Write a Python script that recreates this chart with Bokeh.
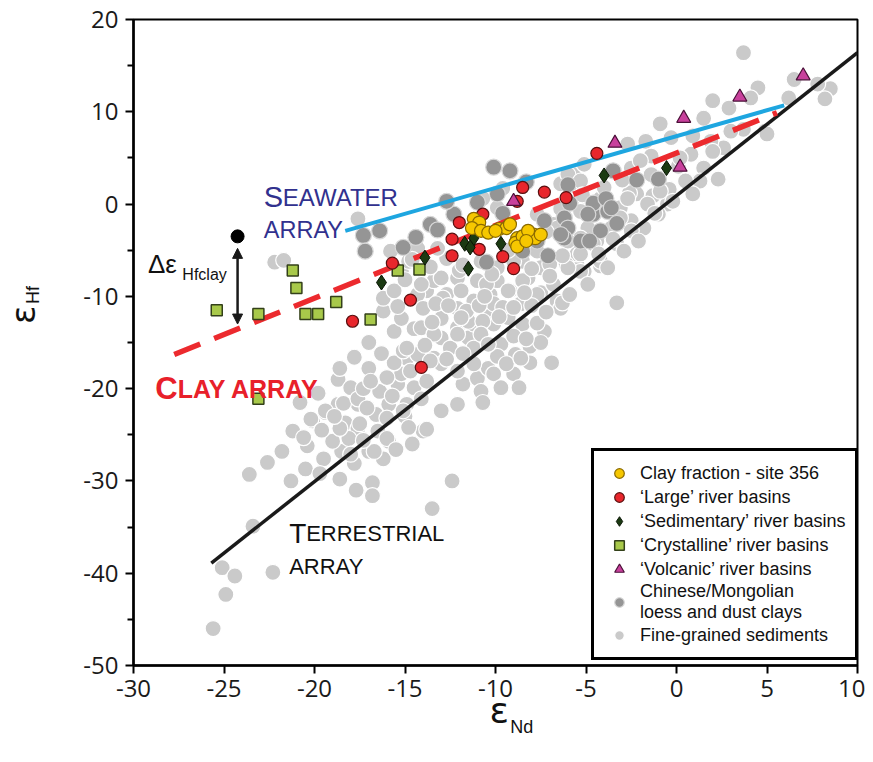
from bokeh.plotting import figure
from bokeh.models import (Range1d, FixedTicker, Label, Arrow, NormalHead,
                          Legend, LegendItem, LinearAxis)
from bokeh.embed import file_html
from bokeh.resources import INLINE

# ---------------- data ----------------
x_ticks = [-30, -25, -20, -15, -10, -5, 0, 5, 10]
y_ticks = [-50, -40, -30, -20, -10, 0, 10, 20]
y_minor = [-45, -35, -25, -15, -5, 5, 15]

# Fine-grained sediments (light grey)
fine_pts = [
    (-23.6, -29.3), (-21.3, -30.0), (-20.5, -28.7), (-20.4, -26.2), (-19.5, -27.6),
    (-20.1, -23.5), (-19.4, -22.6), (-23.4, -34.9), (-25.1, -39.4), (-24.4, -40.3),
    (-24.9, -42.3), (-25.6, -46.0), (-22.3, -39.9), (-16.8, -30.2), (-16.8, -31.6),
    (-17.8, -28.1), (-16.2, -27.6), (-17.0, -26.8), (-18.5, -26.8), (-19.0, -25.7),
    (-18.3, -23.7), (-17.6, -24.3), (-16.6, -22.8), (-15.9, -21.7), (-15.9, -25.7),
    (-17.6, -21.7), (-18.7, -21.7), (-14.0, -24.6), (-16.5, -24.6), (-18.1, -25.4),
    (-12.4, -30.0), (-13.5, -33.0),
    (-18.7, -19.0), (-18.0, -19.9), (-17.0, -17.8), (-20.2, -23.3), (-19.4, -22.4),
    (-18.4, -21.6), (-17.6, -21.1), (-17.1, -22.1), (-16.4, -20.3), (-17.5, -23.8),
    (-16.0, -23.2), (-18.6, -24.3), (-16.7, -26.8), (-18.0, -27.1), (-16.0, -25.4),
    (-15.4, -19.5), (-15.2, -18.4), (-14.9, -16.7), (-15.6, -17.2), (-14.3, -16.3),
    (-14.5, -19.9), (-13.8, -19.2), (-14.1, -21.1), (-14.9, -21.7), (-13.4, -16.7),
    (-15.1, -15.9), (-14.5, -13.5), (-15.6, -13.8), (-15.2, -12.4), (-16.2, -11.6),
    (-16.2, -10.2), (-15.4, -11.1), (-13.8, -9.4), (-13.0, -12.4), (-12.1, -13.4),
    (-13.0, -14.5), (-12.5, -15.6), (-11.5, -14.5), (-11.2, -13.0), (-12.1, -11.3),
    (-11.2, -10.5), (-10.4, -11.9), (-10.1, -13.0), (-10.3, -9.8), (-12.7, -9.8),
    (-13.0, -22.4), (-13.8, -24.4), (-11.8, -19.5), (-12.1, -21.7), (-11.0, -18.9),
    (-10.4, -17.8), (-10.8, -20.3), (-11.2, -17.3), (-12.1, -18.1), (-13.0, -17.3),
    (-3.3, -10.7), (-7.3, -13.8), (-6.9, -17.2), (-8.1, -17.2), (-9.0, -18.4),
    (-8.7, -19.9), (-10.1, -18.4), (-10.7, -21.5), (-9.7, -19.9), (-8.1, -15.4),
    (-7.5, -15.0), (-6.6, -10.5), (-7.5, -9.6), (-6.4, -11.3), (-8.5, -13.0),
    (-7.7, -12.9), (-9.7, -15.2), (-11.2, -15.6), (-5.1, -7.3), (-4.2, -6.7),
    (-5.5, -6.5), (-12.9, -10.2), (-11.5, -12.7), (-10.7, -12.7), (-14.1, -13.4),
    (-13.4, -14.1), (-14.9, -15.6), (-14.7, -18.1), (-13.6, -17.0), (-10.1, -10.8),
    (-9.2, -9.4), (-8.6, -10.8), (-9.9, -8.3), (-11.0, -8.3), (-12.1, -8.0),
    (-13.4, -8.3), (-14.3, -9.8), (-8.2, -8.0), (-7.5, -6.9), (-7.0, -6.5),
    (-9.3, -12.3), (-12.1, -14.1), (-10.8, -14.1),
    (3.7, 16.4), (4.5, 12.6), (8.5, 12.5), (8.2, 11.4), (7.8, 13.0), (6.5, 13.5),
    (6.2, 11.5), (4.1, 11.5), (2.0, 11.2), (2.9, 10.4), (1.5, 9.3), (4.9, 7.9),
    (3.7, 8.1), (3.0, 7.9), (2.6, 6.1), (1.9, 6.8), (0.9, 7.4), (0.8, 5.4),
    (-0.3, 7.2), (-0.9, 8.7), (-1.7, 6.8), (-2.7, 6.5), (-1.4, 5.2), (0.1, 4.1),
    (1.5, 3.9), (2.3, 2.7), (1.3, 2.5), (0.5, 2.5), (-0.4, 1.6), (-1.3, 0.9),
    (-2.2, 1.1), (-1.6, 0.0), (-0.5, 0.0), (0.9, 1.1), (-2.5, 3.9), (-2.6, 1.2),
    (-3.1, -0.4), (-2.5, -1.8), (-1.8, -2.6), (-1.0, -1.1), (-4.9, -2.6), (-4.2, 0.6),
    (-5.1, -0.4), (5.0, 7.6), (-0.2, 0.3), (-1.2, -1.0), (-0.9, 1.4), (-2.7, 0.6),
    (-2.5, -2.9), (-2.1, -4.0), (-3.3, -4.3), (-4.4, -4.0), (-5.3, -3.7), (-5.5, -5.4),
    (-4.2, -6.2), (-6.3, -10.7), (-5.3, -7.3), (-6.1, -6.5), (-1.4, 3.2), (0.2, 5.0),
    (2.0, 5.7), (-2.0, 4.7), (-5.7, 3.2), (-5.5, -0.2), (-6.4, 2.2), (-5.7, 2.3),
    (-15.8, -5.1), (-13.0, -8.0), (-11.9, -9.4), (-10.5, -8.7), (-9.3, -9.4),
    (-8.5, -8.3), (-7.7, -9.8), (-6.8, -8.7), (-6.0, -6.9), (-5.3, -5.4), (-4.6, -4.3),
    (-3.6, -2.6), (-3.1, -1.5), (-6.0, -4.0), (-5.3, -0.8), (-6.8, -2.2), (-7.7, -5.1),
    (-8.5, -6.2), (-9.9, -6.9), (-10.8, -6.2), (-12.7, -5.9), (-13.2, -4.8),
    (-14.3, -4.8), (-15.2, -7.3), (-14.1, -8.7), (-15.6, -9.4), (-5.9, -9.8),
    (-4.9, -8.7), (-3.8, -6.9), (-2.9, -5.1), (-7.7, -1.1), (-6.6, -2.6), (-9.9, -0.4),
    (-10.7, 0.6), (-9.6, 1.7), (-6.0, 3.2), (-5.3, 2.5), (-5.1, 4.3), (-17.6, -1.6),
    (-22.2, -6.3), (-21.7, -6.1), (-14.8, -6.2), (-12.0, -7.2), (-10.2, -7.6),
    (-9.0, -6.2), (-8.0, -7.0), (-7.0, -7.8), (-6.3, -5.6), (-4.3, -5.4), (-3.5, -3.8),
    (-17.0, -15.0), (-16.3, -16.2), (-17.8, -16.6), (-18.6, -17.8), (-16.0, -18.8),
    (-19.8, -20.5), (-20.8, -21.5), (-21.2, -24.6), (-21.8, -26.8), (-22.6, -28.0),
    (-19.7, -29.2), (-18.6, -29.8), (-17.7, -31.0), (-15.0, -23.0), (-14.6, -26.0),
    (-14.0, -11.3), (-13.3, -10.8), (-11.6, -11.6), (-9.6, -11.2), (-8.0, -11.0),
    (-7.2, -11.7), (-9.0, -14.3), (-8.3, -14.6), (-9.9, -16.5), (-8.9, -16.3),
    (-15.0, -8.2), (-14.6, -6.0), (-9.3, -5.0), (-7.2, -3.0), (-6.4, -0.5),
    (-5.2, 1.0), (-4.0, 1.8), (-3.0, 2.6), (-11.8, -6.6), (-13.6, -6.8),
    (-17.3, -20.0), (-16.9, -19.2), (-15.7, -20.8), (-15.1, -22.4), (-14.8, -24.2),
    (-15.5, -26.6), (-17.3, -25.6), (-18.9, -23.0), (-19.6, -24.5), (-20.6, -25.3),
    (-13.5, -12.8), (-12.6, -11.0), (-11.9, -12.3), (-10.9, -11.0), (-9.8, -12.2),
    (-9.0, -11.2), (-8.4, -9.6), (-10.6, -10.0), (-13.9, -15.3), (-12.7, -16.8),
    (-11.8, -16.2), (-10.4, -15.2), (-9.4, -17.3), (-8.6, -16.7),
]

# Chinese/Mongolian loess and dust clays (dark grey)
loess_pts = [
    (-10.1, 4.0), (-9.2, 3.6), (-13.6, -2.2), (-13.2, -2.8), (-12.3, -1.1),
    (-15.1, -4.7), (-17.3, -3.4), (-16.4, -2.9), (-17.2, -5.1), (-6.0, 2.1),
    (-5.9, 0.1), (-6.2, -1.5), (-7.3, -1.8), (-6.0, -2.6), (-5.3, -4.0),
    (-8.5, -5.1), (-9.9, 1.1), (-4.6, -1.1), (-3.8, -0.8), (-3.3, -2.1),
    (-1.0, 2.7), (-2.2, 2.6), (-4.6, 0.1), (-3.5, 3.6), (-6.2, -3.7),
    (-3.9, 0.6), (-7.7, -4.0), (-6.4, -3.3), (-4.9, -1.1), (-3.6, -0.4),
    (-4.2, -2.9), (-4.8, -4.0), (-9.6, -1.0), (-11.0, 0.2), (-14.4, -3.6),
    (-8.3, 2.4), (-12.7, 0.3), (-10.5, -6.3), (-7.1, -5.6),
]

# Clay fraction - site 356 (yellow)
clay_pts = [
    (-11.2, -1.6), (-10.9, -2.0), (-11.3, -2.6), (-10.8, -2.9), (-10.4, -3.1),
    (-9.8, -2.7), (-9.4, -2.6), (-9.2, -2.2), (-8.8, -3.7), (-8.9, -4.2),
    (-8.5, -3.5), (-7.9, -3.3), (-7.8, -3.7), (-7.5, -3.3), (-8.8, -4.6),
    (-8.2, -2.9), (-10.0, -2.9), (-8.3, -4.0),
]

# 'Large' river basins (red)
large_pts = [
    (-17.9, -12.7), (-14.7, -10.4), (-14.1, -17.7), (-15.7, -6.4), (-10.7, -1.1),
    (-12.0, -2.0), (-12.4, -3.8), (-10.9, -4.9), (-12.4, -5.6), (-9.6, -5.7),
    (-9.0, -7.0), (-8.5, 1.8), (-7.3, 1.3), (-8.8, 0.3), (-6.1, 0.7), (-4.4, 5.5),
]

# 'Sedimentary' river basins (dark green diamonds)
sedim_pts = [
    (-16.3, -8.5), (-13.9, -5.8), (-11.2, -3.7), (-11.7, -4.3), (-11.4, -4.7),
    (-9.7, -4.3), (-11.5, -7.0), (-4.0, 3.1), (-0.55, 3.9),
]

# 'Crystalline' river basins (light green squares)
cryst_pts = [
    (-25.4, -11.5), (-23.1, -11.9), (-21.2, -7.2), (-21.0, -9.1), (-20.5, -11.9),
    (-19.8, -11.9), (-18.8, -10.6), (-16.9, -12.5), (-23.1, -21.1), (-15.4, -7.2),
    (-14.2, -7.1),
]

# 'Volcanic' river basins (magenta triangles)
volc_pts = [(-9.0, 0.3), (-3.4, 6.6), (0.4, 9.3), (3.5, 11.6), (7.0, 13.9), (0.2, 4.0)]

# Arrays (end points of the straight lines)
terr_x, terr_y = [-25.7, 10.0], [-38.9, 16.4]
sea_x, sea_y = [-18.3, 5.95], [-2.9, 10.7]
clayarr_x, clayarr_y = [-27.75, 5.55], [-16.3, 9.9]

# delta epsilon Hf clay illustration
delta_pt_x, delta_pt_y = [-24.25], [-3.5]
delta_arrow_x = -24.25
delta_arrow_y = [-4.8, -13.0]


def xs(pts):
    return [q[0] for q in pts]


def ys(pts):
    return [q[1] for q in pts]


# ---------------- figure ----------------
p = figure(width=865, height=754, x_range=Range1d(-30, 10), y_range=Range1d(-50, 20),
           output_backend="svg", toolbar_location=None,
           min_border_left=133, min_border_right=8, min_border_top=19,
           min_border_bottom=89)
p.xgrid.visible = False
p.ygrid.visible = False
p.background_fill_color = "white"
p.border_fill_color = "white"
p.outline_line_color = "black"
p.outline_line_width = 2
p.outline_line_alpha = 1

p.xaxis.ticker = FixedTicker(ticks=x_ticks)
p.yaxis.ticker = FixedTicker(ticks=y_ticks, minor_ticks=y_minor)
p.xaxis.major_label_overrides = {t: str(t) for t in x_ticks}
p.yaxis.major_label_overrides = {t: str(t) for t in y_ticks}
for ax in (p.xaxis, p.yaxis):
    ax.axis_line_width = 2.5
    ax.axis_line_color = "black"
    ax.major_tick_line_width = 2
    ax.major_tick_line_color = "black"
    ax.major_tick_out = 8
    ax.major_tick_in = 0
    ax.major_label_text_font = "Open Sans"
    ax.major_label_text_font_size = "24px"
    ax.major_label_text_color = "#1a1a1a"
p.xaxis.minor_tick_line_color = None
p.yaxis.minor_tick_line_color = "black"
p.yaxis.minor_tick_line_width = 2
p.yaxis.minor_tick_out = 6
p.yaxis.minor_tick_in = 0
p.yaxis.major_label_standoff = 7
p.xaxis.major_label_standoff = 6


# axis titles: epsilon + subscript, each as a one-label axis outside the frame
def title_axis(side, tick, text, size, font, standoff, orientation="horizontal"):
    ax = LinearAxis(ticker=FixedTicker(ticks=[tick]),
                    major_label_overrides={tick: text})
    ax.axis_line_color = None
    ax.major_tick_line_color = None
    ax.minor_tick_line_color = None
    ax.major_tick_out = 0
    ax.major_tick_in = 0
    ax.major_label_text_font = font
    ax.major_label_text_font_size = f"{size}px"
    ax.major_label_text_color = "#111111"
    ax.major_label_standoff = standoff
    ax.major_label_orientation = orientation
    p.add_layout(ax, side)


title_axis("below", -9.8, "ε", 36, "DejaVu Sans", -10)
title_axis("below", -8.55, "Nd", 18, "Liberation Sans", -17)
title_axis("left", -12.0, "ε", 34, "DejaVu Sans", 37, "parallel")
title_axis("left", -9.85, "Hf", 18, "Liberation Sans", -43, "parallel")

# grey clouds
r_fine = p.scatter(xs(fine_pts), ys(fine_pts), marker="circle", size=16,
                   fill_color="#cacaca", line_color="white", line_width=1.2)
r_loess = p.scatter(xs(loess_pts), ys(loess_pts), marker="circle", size=16,
                    fill_color="#959595", line_color="#d8d8d8", line_width=1.2)

# arrays
p.line(terr_x, terr_y, line_color="#1a1a1a", line_width=3.5)
p.line(sea_x, sea_y, line_color="#1ea6e0", line_width=4)
p.line(clayarr_x, clayarr_y, line_color="#ec2a2e", line_width=5.5, line_dash="28 15")

# coloured symbols
r_cryst = p.scatter(xs(cryst_pts), ys(cryst_pts), marker="square", size=11,
                    fill_color="#a8c94a", line_color="#33401a", line_width=1.5)
r_large = p.scatter(xs(large_pts), ys(large_pts), marker="circle", size=12,
                    fill_color="#e8262c", line_color="#5a1010", line_width=1.2)
r_sedim = p.scatter(xs(sedim_pts), ys(sedim_pts), marker="diamond", size=15,
                    fill_color="#1b3a12", line_color="#0a1505", line_width=1)
r_clay = p.scatter(xs(clay_pts), ys(clay_pts), marker="circle", size=13,
                   fill_color="#f6c700", line_color="#8a6a00", line_width=1.2)
r_volc = p.scatter(xs(volc_pts), ys(volc_pts), marker="triangle", size=14,
                   fill_color="#c8409c", line_color="#4a1038", line_width=1.2)

# delta epsilon illustration
p.scatter(delta_pt_x, delta_pt_y, marker="circle", size=13, fill_color="black",
          line_color="black")
p.add_layout(Arrow(start=NormalHead(size=10, fill_color="#1a1a1a", line_color="#1a1a1a"),
                   end=NormalHead(size=10, fill_color="#1a1a1a", line_color="#1a1a1a"),
                   x_start=delta_arrow_x, y_start=delta_arrow_y[0],
                   x_end=delta_arrow_x, y_end=delta_arrow_y[1],
                   line_color="#1a1a1a", line_width=2.5))

FONT = "Liberation Sans"


def lbl(x, y, text, size, color, bold=False, xo=0, font=FONT):
    p.add_layout(Label(x=x, y=y, text=text,
                       text_font=font, text_font_size=f"{size}px",
                       text_color=color,
                       text_font_style="bold" if bold else "normal",
                       x_offset=xo, text_align="left",
                       text_baseline="alphabetic"))


navy = "#31318e"
lbl(-22.8, 0.76, "S", 29, navy)
lbl(-22.8, 0.76, "EAWATER", 24, navy, xo=19)
lbl(-22.8, -2.8, "ARRAY", 23.5, navy)

red = "#e8202a"
lbl(-28.8, -20.0, "C", 31, red, bold=True)
lbl(-28.8, -20.0, "LAY ARRAY", 25, red, bold=True, xo=22.5)

lbl(-21.4, -35.75, "T", 28, "#111111")
lbl(-21.4, -35.75, "ERRESTRIAL", 22, "#111111", xo=17)
lbl(-21.4, -39.3, "ARRAY", 22, "#111111")

lbl(-29.2, -6.5, "Δε", 26, "#111111")
lbl(-27.3, -7.6, "Hfclay", 16, "#111111")

# legend
legend = Legend(items=[
    LegendItem(label="Clay fraction - site 356", renderers=[r_clay]),
    LegendItem(label="\u2018Large\u2019 river basins", renderers=[r_large]),
    LegendItem(label="\u2018Sedimentary\u2019 river basins", renderers=[r_sedim]),
    LegendItem(label="\u2018Crystalline\u2019 river basins", renderers=[r_cryst]),
    LegendItem(label="\u2018Volcanic\u2019 river basins", renderers=[r_volc]),
    LegendItem(label="Chinese/Mongolian\nloess and dust clays", renderers=[r_loess]),
    LegendItem(label="Fine-grained sediments", renderers=[r_fine]),
], location=(458, 5))
legend.label_text_font = FONT
legend.label_text_font_size = "18px"
legend.label_text_color = "#111111"
legend.border_line_color = "black"
legend.border_line_width = 3.5
legend.border_line_alpha = 1
legend.background_fill_color = "white"
legend.background_fill_alpha = 1
legend.padding = 10
legend.spacing = 0
legend.glyph_height = 24
legend.glyph_width = 30
legend.label_standoff = 6
legend.label_height = 20
p.add_layout(legend)

open("out.html", "w").write(file_html(p, INLINE))
